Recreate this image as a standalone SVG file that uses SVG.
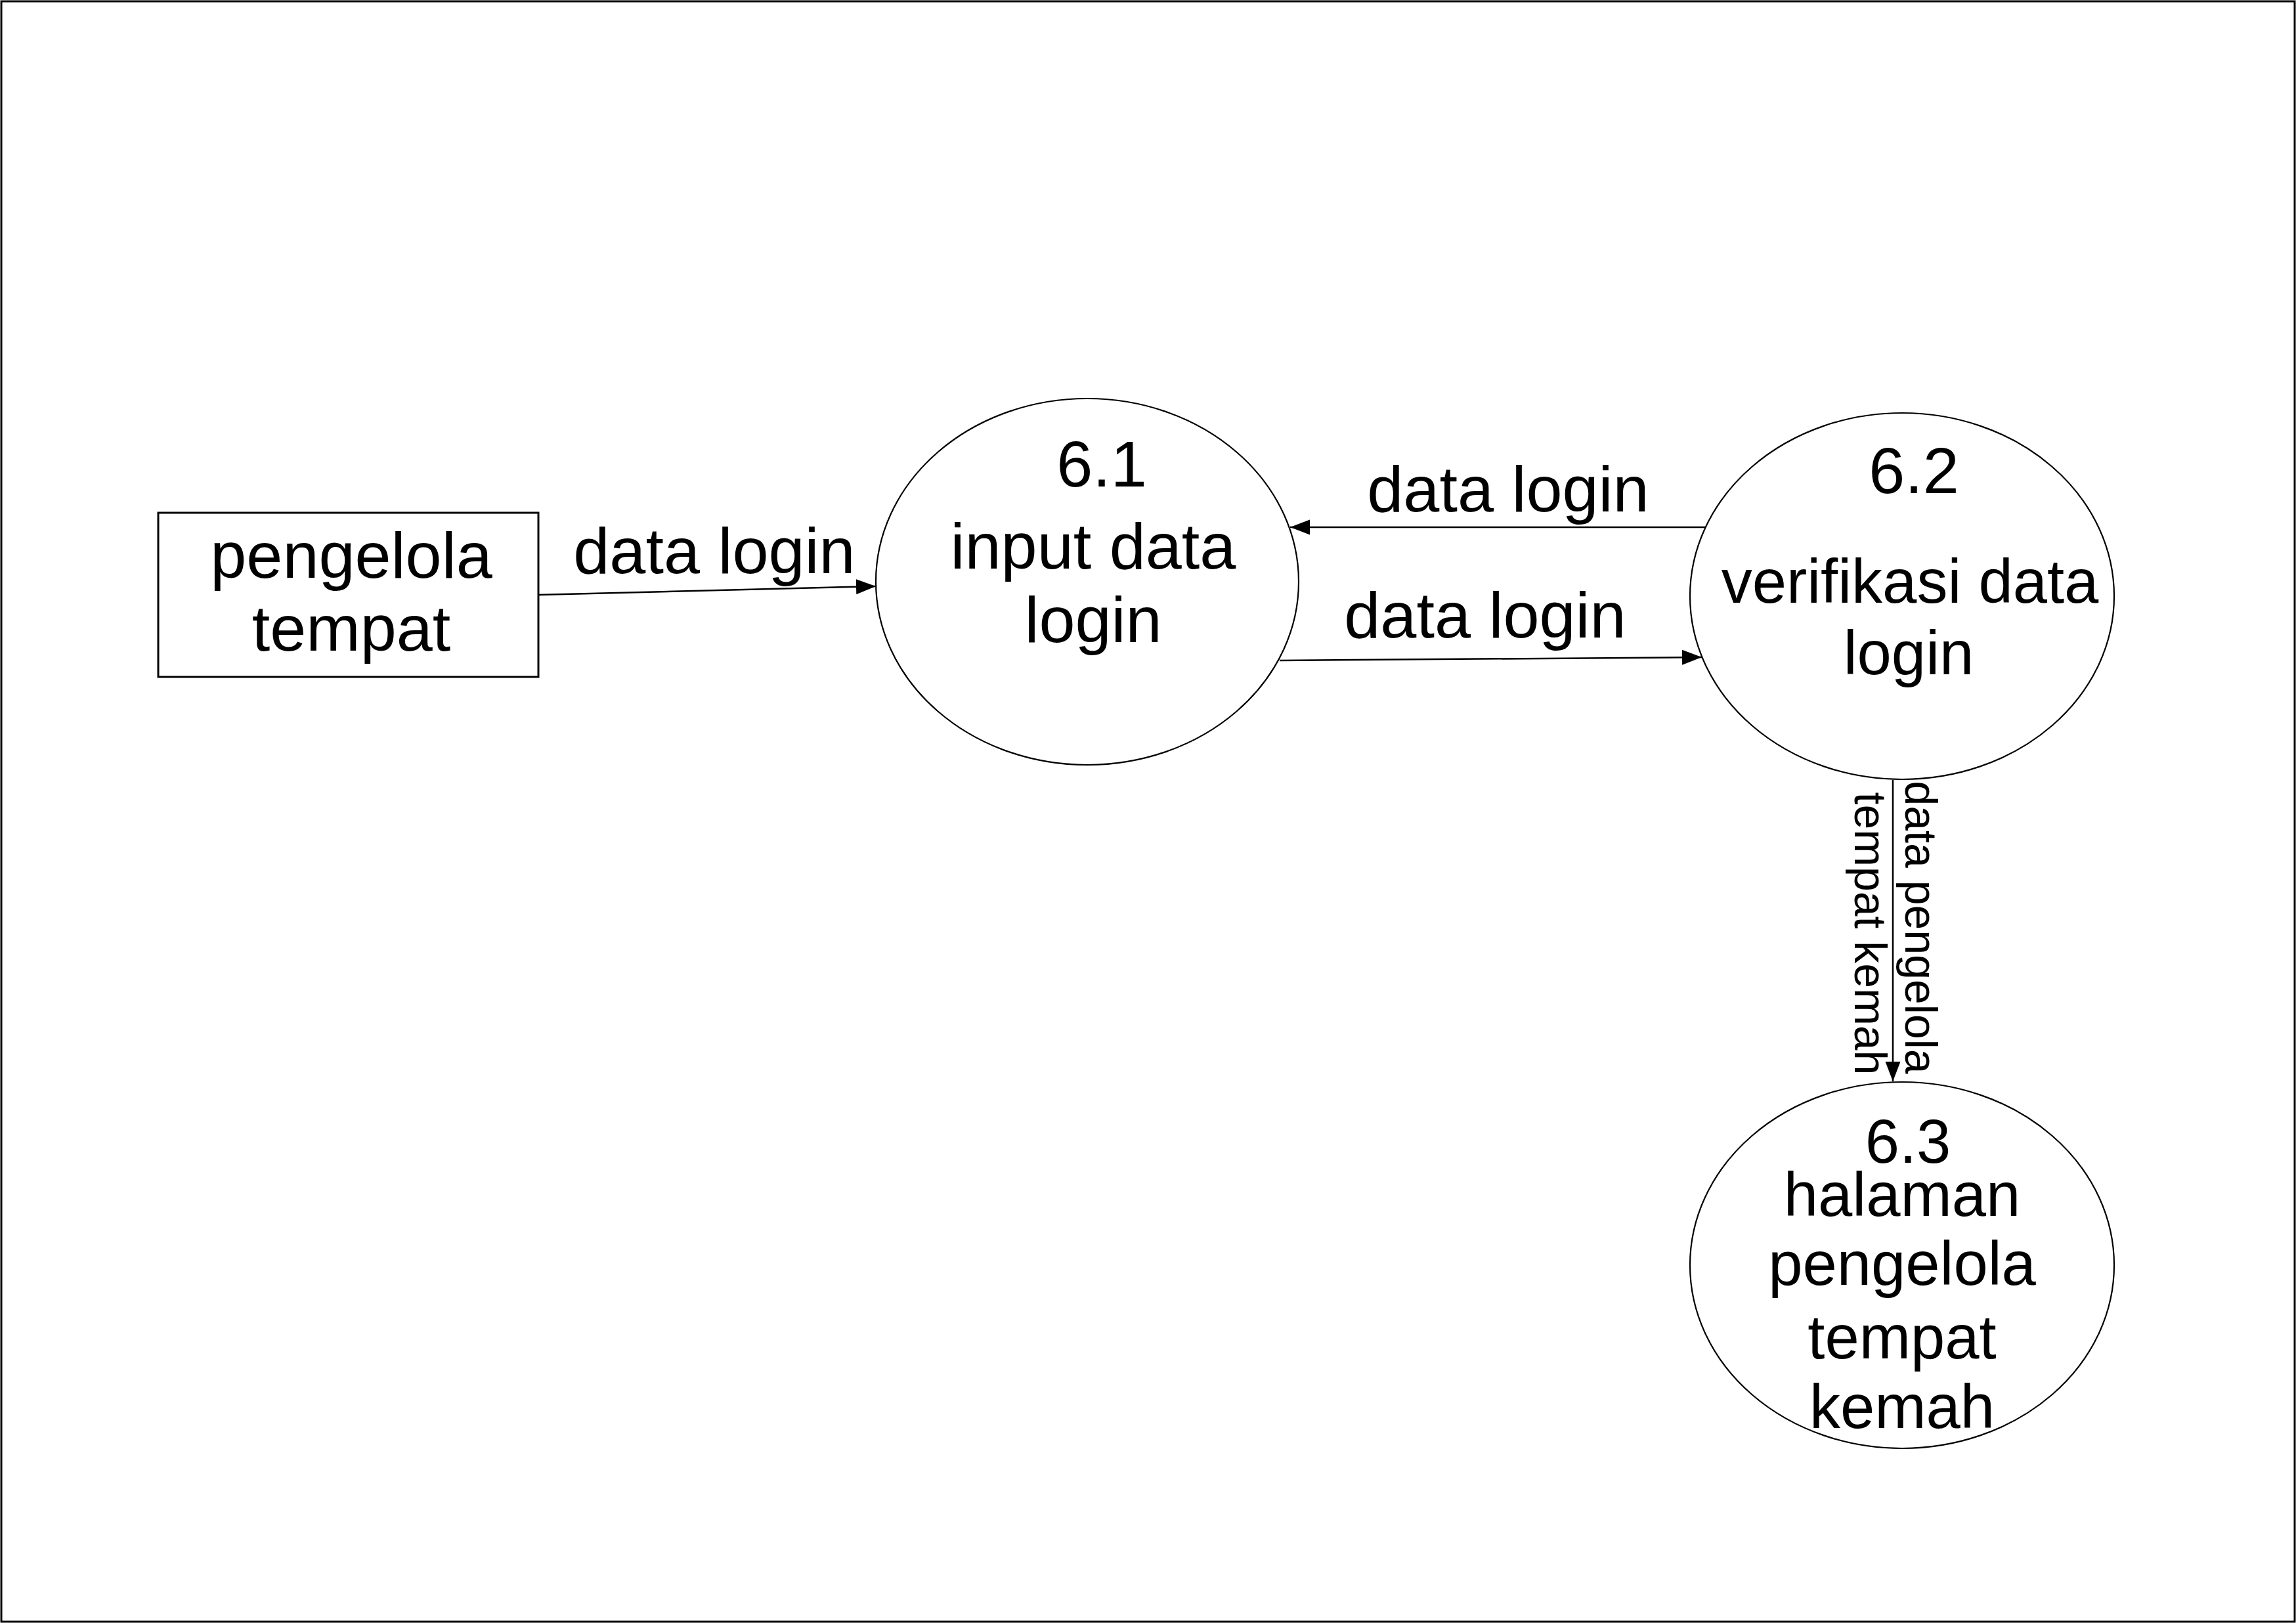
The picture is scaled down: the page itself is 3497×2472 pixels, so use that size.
<svg xmlns="http://www.w3.org/2000/svg" width="3497" height="2472" viewBox="0 0 3497 2472">
<style>
  .shape { fill: #ffffff; stroke: #000000; stroke-width: 2.2; }
  .box { fill: #ffffff; stroke: #000000; stroke-width: 3; }
  .flow { fill: none; stroke: #000000; stroke-width: 2.5; marker-end: url(#arrow); }
  .t { font-family: "Liberation Sans", Arial, sans-serif; fill: #000000; text-anchor: middle; }
  .big { font-size: 99px; }
  .mid { font-size: 94px; }
  .small { font-size: 68px; }
</style>
<defs>
  <marker id="arrow" markerUnits="userSpaceOnUse" markerWidth="32" markerHeight="24" refX="30" refY="11.5" orient="auto">
    <path d="M0,0 L30,11.5 L0,23 z" fill="#000000"/>
  </marker>
</defs>
<rect x="0" y="0" width="3497" height="2472" fill="#ffffff"/>
<rect x="2" y="2" width="3493" height="2468" fill="none" stroke="#000000" stroke-width="3"/>

<g id="connectors">
  <line class="flow" x1="820" y1="906" x2="1334" y2="893"/>
  <line class="flow" x1="2598" y1="803" x2="1965" y2="803"/>
  <line class="flow" x1="1949" y1="1006" x2="2592" y2="1001"/>
  <line class="flow" x1="2883" y1="1188" x2="2883" y2="1647"/>
  <text class="t big" x="1088" y="873">data login</text>
  <text class="t big" x="2297" y="779">data login</text>
  <text class="t big" x="2262" y="971">data login</text>
  <text class="t small" transform="translate(2902,1422) rotate(90)">
    <tspan x="0" y="0">data pengelola</tspan>
    <tspan x="0" y="77">tempat kemah</tspan>
  </text>
</g>

<g id="pengelola-tempat">
  <rect class="box" x="241" y="781" width="579" height="250"/>
  <text class="t big" x="535" y="880">pengelola</text>
  <text class="t big" x="535" y="991">tempat</text>
</g>

<g id="p6-1">
  <ellipse class="shape" cx="1656" cy="886" rx="322" ry="279"/>
  <text class="t big" x="1678" y="741">6.1</text>
  <text class="t big" x="1665" y="866">input data</text>
  <text class="t big" x="1665" y="978">login</text>
</g>

<g id="p6-2">
  <ellipse class="shape" cx="2897" cy="908" rx="323" ry="279"/>
  <text class="t big" x="2915" y="751">6.2</text>
  <text class="t mid" x="2909" y="918">verifikasi data</text>
  <text class="t mid" x="2907" y="1027">login</text>
</g>

<g id="p6-3">
  <ellipse class="shape" cx="2897" cy="1927" rx="323" ry="279"/>
  <text class="t mid" x="2906" y="1771">6.3</text>
  <text class="t mid" x="2897" y="1852">halaman</text>
  <text class="t mid" x="2897" y="1957">pengelola</text>
  <text class="t mid" x="2897" y="2069">tempat</text>
  <text class="t mid" x="2897" y="2175">kemah</text>
</g>
</svg>
